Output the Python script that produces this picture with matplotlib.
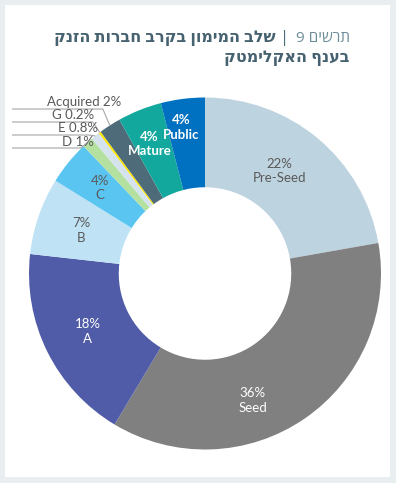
import numpy as np
import matplotlib.pyplot as plt
from matplotlib.patches import Rectangle

# funding stages, clockwise from 12 o'clock
stages = ['Pre-Seed', 'Seed', 'A', 'B', 'C', 'D', 'E', 'G', 'Acquired', 'Mature', 'Public']
shares = [22, 36, 18, 7, 4, 1, 0.8, 0.2, 2, 4, 4]
colors = ['#bed3e0', '#808080', '#505ca8', '#bfe3f5', '#5bc5f2', '#b4e0a0',
          '#d5e3ef', '#ffe600', '#4d6b78', '#13a89e', '#0070c0']
label_colors = ['#595959', 'white', 'white', '#595959', '#595959', '#595959',
                '#595959', '#595959', '#595959', 'white', 'white']
bold_labels = ['Mature', 'Public']

title_tag = "תרשים 9"
title_line1 = "שלב המימון בקרב חברות הזנק"
title_line2 = "בענף האקלימטק"

W, H = 396, 483
CX, CY, R = 205, 273.5, 176.0   # pie centre / radius in pixels


def to_data(x, y):
    return (x - CX) / R, (CY - y) / R


def fig_xy(x, y):
    return x / W, 1 - y / H


fig = plt.figure(figsize=(W / 100, H / 100), dpi=100)
fig.patch.set_facecolor('#e9eef0')
fig.add_artist(Rectangle(fig_xy(5, 477), 385 / W, 472 / H, transform=fig.transFigure,
                         facecolor='white', edgecolor='none', zorder=0))

ax = fig.add_axes([0, 0, 1, 1])
ax.set_facecolor('none')

ring = 0.51
wedges, _ = ax.pie(shares, colors=colors, startangle=90, counterclock=False,
                   radius=1, wedgeprops=dict(width=ring, linewidth=0))
ax.set_aspect('auto')
x0, y0 = to_data(0, H)
x1, y1 = to_data(W, 0)
ax.set_xlim(x0, x1)
ax.set_ylim(y0, y1)
ax.axis('off')

lab_font = ['Lato', 'DejaVu Sans']
total = float(sum(shares))
cum = np.cumsum([0] + shares)
mid_angles = 360 * (cum[:-1] + np.array(shares) / 2) / total  # clockwise from top

# excel's label placement: (angle shift in degrees, radius)
place = {'Pre-Seed': (-4, 0.72), 'Seed': (14, 0.77), 'C': (0, 0.77),
         'Mature': (-1.5, 0.80), 'Public': (-2, 0.84)}

outside = []
for name, v, ang, c in zip(stages, shares, mid_angles, label_colors):
    if v < 3:
        outside.append((name, v, ang))
        continue
    da, r = place.get(name, (0, 1 - ring / 2))
    a = np.radians(ang + da)
    ax.text(r * np.sin(a), r * np.cos(a), f"{v:g}%\n{name}", ha='center', va='center',
            color=c, fontsize=9.5, family=lab_font, linespacing=1.25,
            fontweight='bold' if name in bold_labels else 'normal')

# small slices: labels stacked on the left with leader lines
left_x, _ = to_data(12, 0)
text_shift = {'Acquired': 11, 'G': -6, 'E': 3, 'D': 6}
for i, (name, v, ang) in enumerate(reversed(outside)):
    a = np.radians(ang)
    ax_, ay_ = np.sin(a), np.cos(a)
    _, row_y = to_data(0, 109 + 13 * i)
    elbow_x = ax_ - 7 / R
    ax.plot([left_x, elbow_x, ax_], [row_y, row_y, ay_], color='#a6a6a6', lw=0.8,
            solid_capstyle='butt')
    ax.text(ax_ + text_shift[name] / R, row_y + 0.5 / R, f"{name} {v:g}%", ha='right',
            va='bottom', color='#595959', fontsize=9.5, family=lab_font)

# title (drawn in visual order, right to left)
heb_font = ['Open Sans', 'DejaVu Sans']
fig.text(*fig_xy(350, 42), title_tag[::-1], ha='right', va='baseline',
         fontsize=11, color='#6d8c9a', family=heb_font)
fig.text(*fig_xy(285, 42), '|', ha='center', va='baseline',
         fontsize=12, color='#4d6b7a', family=heb_font)
fig.text(*fig_xy(276, 42), title_line1[::-1], ha='right', va='baseline',
         fontsize=11.5, fontweight='bold', color='#46616f', family=heb_font)
fig.text(*fig_xy(350, 62), title_line2[::-1], ha='right', va='baseline',
         fontsize=11.5, fontweight='bold', color='#46616f', family=heb_font)

fig.savefig('out.png', dpi=100, facecolor=fig.get_facecolor())
